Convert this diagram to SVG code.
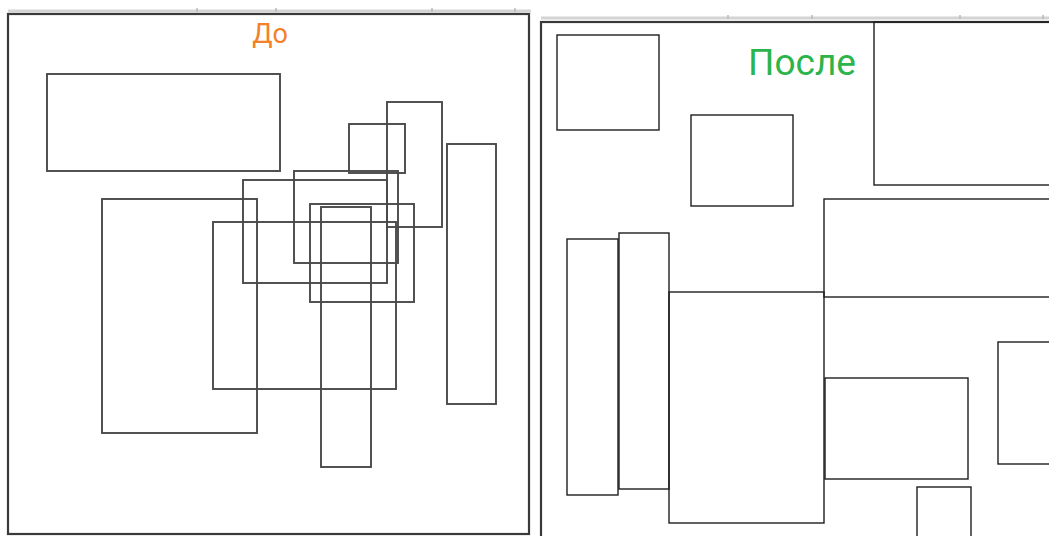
<svg xmlns="http://www.w3.org/2000/svg" width="1049" height="536" viewBox="0 0 1049 536">
<style>
.bg{fill:#ffffff}
.ruler{stroke:#d4d4d4;stroke-width:3;fill:none}
.tick{stroke:#b8b8b8;stroke-width:1.5}
.frame{fill:#ffffff;stroke:#3a3a3a;stroke-width:2.2}
.b{fill:none;stroke:#4a4a4a;stroke-width:1.9}
.a{fill:none;stroke:#1e1e1e;stroke-width:1.4}
.t{font-family:Roboto,"Noto Sans","Liberation Sans",sans-serif;text-anchor:middle}
</style>
<rect class="bg" x="0" y="0" width="1049" height="536"/>
<g id="ruler-left">
<line class="ruler" x1="8" y1="11" x2="531" y2="11"/>
<line class="tick" x1="197" y1="8" x2="197" y2="12"/>
<line class="tick" x1="276" y1="8" x2="276" y2="12"/>
<line class="tick" x1="432" y1="8" x2="432" y2="12"/>
<line class="tick" x1="515" y1="8" x2="515" y2="12"/>
</g>
<g id="ruler-right">
<line class="ruler" x1="541" y1="18" x2="1049" y2="18"/>
<line class="tick" x1="728" y1="15" x2="728" y2="19"/>
<line class="tick" x1="812" y1="15" x2="812" y2="19"/>
<line class="tick" x1="960" y1="15" x2="960" y2="19"/>
<line class="tick" x1="1043" y1="15" x2="1043" y2="19"/>
</g>
<g id="panel-before">
<rect class="frame" x="8" y="14" width="521" height="520"/>
<text class="t" x="270" y="43" font-size="27" fill="#f5802a">До</text>
</g>
<g id="panel-after">
<rect class="frame" x="541" y="22" width="520" height="530"/>
<text class="t" x="802" y="75" font-size="37" fill="#2bb44c">После</text>
</g>
<g id="before-nodes">
<rect id="b1" class="b" x="47" y="74" width="233" height="97"/>
<rect id="b2" class="b" x="102" y="199" width="155" height="234"/>
<rect id="b3" class="b" x="213" y="222" width="183" height="167"/>
<rect id="b4" class="b" x="243" y="180" width="144" height="103"/>
<rect id="b5" class="b" x="294" y="171" width="104" height="92"/>
<rect id="b6" class="b" x="310" y="204" width="104" height="98"/>
<rect id="b7" class="b" x="321" y="207" width="50" height="260"/>
<rect id="b8" class="b" x="349" y="124" width="56" height="49"/>
<rect id="b9" class="b" x="387" y="102" width="55" height="125"/>
<rect id="b10" class="b" x="447" y="144" width="49" height="260"/>
</g>
<g id="after-nodes">
<rect id="a1" class="a" x="557" y="35" width="102" height="95"/>
<rect id="a2" class="a" x="691" y="115" width="102" height="91"/>
<rect id="a3" class="a" x="874" y="22" width="190" height="163"/>
<rect id="a4" class="a" x="824" y="199" width="240" height="98"/>
<rect id="a5" class="a" x="669" y="292" width="155" height="231"/>
<rect id="a6" class="a" x="567" y="239" width="51" height="256"/>
<rect id="a7" class="a" x="619" y="233" width="50" height="256"/>
<rect id="a8" class="a" x="825" y="378" width="143" height="101"/>
<rect id="a9" class="a" x="998" y="342" width="66" height="122"/>
<rect id="a10" class="a" x="917" y="487" width="54" height="60"/>
</g>
<g id="connectors"/>
</svg>
